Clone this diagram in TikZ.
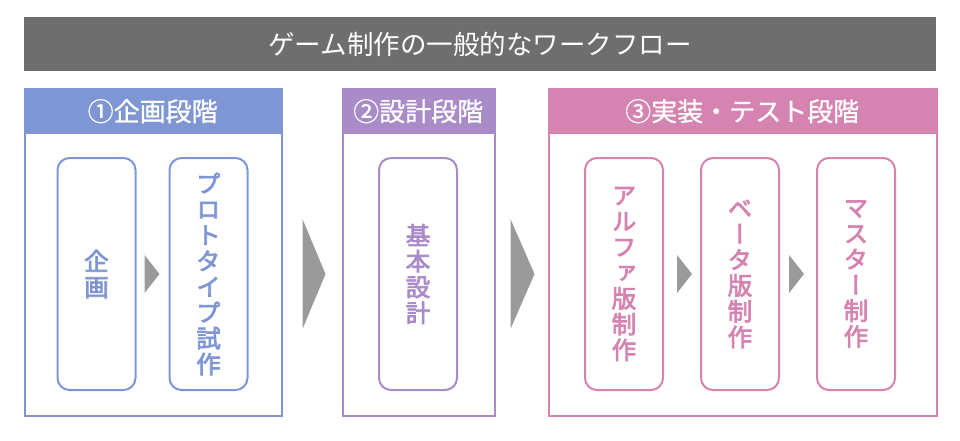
\documentclass[tikz,border=0pt]{standalone}
\usepackage{fontspec}
\setmainfont{Noto Sans CJK JP}
\newfontfamily\medfont[FakeBold=0.9]{Noto Sans CJK JP}
\newfontfamily\tatefont[RawFeature=+vert,FakeBold=3]{Noto Sans CJK JP}
\usetikzlibrary{positioning,calc}

\definecolor{titlegray}{HTML}{6E6E6E}
\definecolor{arrgray}{HTML}{9A9A9A}
\definecolor{planblue}{HTML}{7F96D4}
\definecolor{designpurple}{HTML}{A98BC7}
\definecolor{implpink}{HTML}{D583B0}

\tikzset{
  titlebar/.style={fill=titlegray,text=white,minimum width=912pt,minimum height=54pt,inner sep=0pt,font=\fontsize{26.5}{30}\selectfont},
  phase/.style={draw=#1,line width=1.5pt,anchor=north west,minimum height=327pt,inner sep=0pt},
  head/.style={fill=#1,text=white,anchor=north west,minimum height=46pt,inner sep=0pt,font=\medfont\fontsize{26}{29}\selectfont},
  stepbox/.style={draw=#1,text=#1,line width=2pt,rounded corners=12pt,minimum width=78pt,minimum height=232pt,inner sep=0pt,align=center,font=\tatefont\fontsize{24.5}{25.8}\selectfont}
}

\begin{document}
\begin{tikzpicture}[x=1pt,y=-1pt]
\useasboundingbox (0,0) rectangle (960,440);

\node[titlebar](title) at (480,44){ゲーム制作の一般的なワークフロー};

\node[phase=planblue,minimum width=257pt](p1) at (24,88){};
\node[head=planblue,minimum width=257pt](h1) at (p1.north west){①企画段階};
\node[phase=designpurple,minimum width=152pt](p2) at (342,88){};
\node[head=designpurple,minimum width=152pt](h2) at (p2.north west){②設計段階};
\node[phase=implpink,minimum width=388pt](p3) at (548,88){};
\node[head=implpink,minimum width=388pt](h3) at (p3.north west){③実装・テスト段階};

\node[stepbox=planblue](s1) at (96.5,274){企\\画};
\node[stepbox=planblue,right=32pt of s1](s2){プ\\ロ\\ト\\タ\\イ\\プ\\試\\作};
\node[stepbox=designpurple](s3) at (418,274){基\\本\\設\\計};
\node[stepbox=implpink](s4) at (624,274){ア\\ル\\フ\\ァ\\版\\制\\作};
\node[stepbox=implpink,right=36pt of s4](s5){ベ\\ー\\タ\\版\\制\\作};
\node[stepbox=implpink,right=36pt of s5](s6){マ\\ス\\タ\\ー\\制\\作};

\fill[arrgray] ($(s1.east)+(8,-19)$) -- ++(0,38) -- ($(s1.east)+(23,0)$) -- cycle;
\fill[arrgray] ($(s4.east)+(13,-19)$) -- ++(0,38) -- ($(s4.east)+(28,0)$) -- cycle;
\fill[arrgray] ($(s5.east)+(9,-19)$) -- ++(0,38) -- ($(s5.east)+(24,0)$) -- cycle;

\fill[arrgray] ($(p1.east |- s2.east)+(20,-55)$) -- ++(0,110) -- ($(p1.east |- s2.east)+(43,0)$) -- cycle;
\fill[arrgray] ($(p2.east |- s3.east)+(15,-55)$) -- ++(0,110) -- ($(p2.east |- s3.east)+(39,0)$) -- cycle;

\end{tikzpicture}
\end{document}
